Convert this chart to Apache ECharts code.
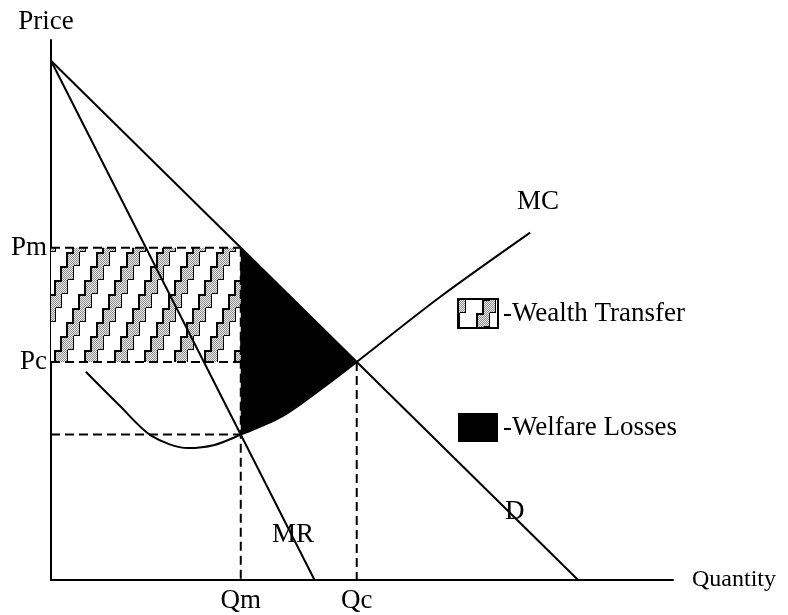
<!DOCTYPE html>
<html>
<head>
<meta charset="utf-8">
<script src="https://cdn.jsdelivr.net/npm/echarts@6/dist/echarts.min.js"></script>
<style>
  html, body { margin: 0; padding: 0; background: #fff; }
  #myChart { width: 788px; height: 615px; }
</style>
</head>
<body>
<div id="myChart"></div>
<script>
  // key quantities / prices
  const QM = 3.6, QC = 5.8;
  const PM = 6.4, PC = 4.2;
  const MR_AT_QM = 2.8;

  // curves
  const demand = [[0, 10], [10, 0]];
  const marginalRevenue = [[0, 10], [5, 0]];
  const marginalCost = [
    [0.66, 4.01], [1.3, 3.36], [1.9, 2.78], [2.6, 2.54], [3.1, 2.6],
    [3.6, 2.8], [4.4, 3.16], [5.35, 3.85], [5.8, 4.2], [7.38, 5.45], [9.09, 6.69]
  ];

  const curveLabels = [
    { name: 'MC', value: [9.24, 7.28] },
    { name: 'D', value: [8.8, 1.31] },
    { name: 'MR', value: [4.59, 0.87] }
  ];
  const xTicks = [QM, QC], xTickNames = ['Qm', 'Qc'];
  const yTicks = [PC, PM], yTickNames = ['Pc', 'Pm'];

  const FONT = 'Liberation Serif';

  // stair-step hatch for the wealth transfer box
  function makeHatch() {
    let w = 30, h = 70, stepH = 14, stepW = 6, band = 14;
    let c = document.createElement('canvas');
    c.width = w; c.height = h;
    let g = c.getContext('2d');
    g.fillStyle = '#fff';
    g.fillRect(0, 0, w, h);
    for (let k = 0; k < 5; k++) {
      let y0 = h - stepH * (k + 1);
      let x0 = stepW * k;
      for (let s of [-w, 0, w]) {
        // dithered grey
        for (let i = 0; i < band; i++) {
          for (let j = 0; j < stepH; j++) {
            g.fillStyle = (i + j) % 2 === 0 ? '#8c8c8c' : '#ececec';
            g.fillRect(x0 + s + i, y0 + j, 1, 1);
          }
        }
        g.fillStyle = '#000';
        g.fillRect(x0 + s, y0, 2, stepH);
        g.fillRect(x0 + s, y0, stepW + 2, 2);
        g.fillRect(x0 + s + band - 1, y0, 1, stepH);
        g.fillRect(x0 + s + band - stepW, y0 + stepH - 1, stepW, 1);
      }
    }
    return { image: c, repeat: 'repeat' };
  }
  const hatch = makeHatch();

  // polygon between D and MC from Qm to Qc
  let welfare = [[QM, PM], [QC, PC]];
  marginalCost.filter(p => p[0] > QM && p[0] < QC).reverse().forEach(p => welfare.push(p));
  welfare.push([QM, MR_AT_QM]);

  const dash = [9, 5];
  function dashed(points) {
    return {
      type: 'line', data: points, symbol: 'none', silent: true, z: 4,
      lineStyle: { color: '#000', width: 2, type: dash }
    };
  }

  let myChart = echarts.init(document.getElementById('myChart'));
  myChart.setOption({
    animation: false,
    backgroundColor: '#fff',
    textStyle: { fontFamily: FONT },
    grid: { left: 51, right: 115, top: 40, bottom: 35 },
    legend: {
      orient: 'vertical',
      left: 457,
      top: 298,
      padding: 0,
      itemWidth: 40,
      itemHeight: 29,
      itemGap: 84,
      selectedMode: false,
      formatter: n => '-' + n,
      textStyle: { fontFamily: FONT, fontSize: 27, color: '#000' },
      data: [
        { name: 'Wealth Transfer', icon: 'rect', itemStyle: { color: hatch, borderColor: '#000', borderWidth: 2 } },
        { name: 'Welfare Losses', icon: 'rect', itemStyle: { color: '#000' } }
      ]
    },
    xAxis: {
      type: 'value', min: 0, max: 11.8,
      name: 'Quantity', nameLocation: 'end', nameGap: 19,
      nameTextStyle: { fontFamily: FONT, fontSize: 24, color: '#000' },
      axisLine: { lineStyle: { color: '#000', width: 2 } },
      axisTick: { show: false },
      splitLine: { show: false },
      axisLabel: {
        customValues: xTicks, margin: 7,
        fontFamily: FONT, fontSize: 27, color: '#000',
        formatter: v => xTickNames[xTicks.indexOf(v)]
      }
    },
    yAxis: {
      type: 'value', min: 0, max: 10.4,
      name: 'Price', nameLocation: 'end', nameGap: 5,
      nameTextStyle: { fontFamily: FONT, fontSize: 27, color: '#000', align: 'center', padding: [0, 10, 0, 0] },
      axisLine: { show: true, lineStyle: { color: '#000', width: 2 } },
      axisTick: { show: false },
      splitLine: { show: false },
      axisLabel: {
        customValues: yTicks, margin: 4,
        fontFamily: FONT, fontSize: 27, color: '#000',
        formatter: v => yTickNames[yTicks.indexOf(v)]
      }
    },
    series: [
      {
        name: 'Wealth Transfer',
        type: 'custom',
        z: 1,
        itemStyle: { color: hatch },
        data: [[0, PC, QM, PM]],
        renderItem: function (params, api) {
          let a = api.coord([api.value(0), api.value(3)]);
          let b = api.coord([api.value(2), api.value(1)]);
          return { type: 'rect', shape: { x: a[0], y: a[1], width: b[0] - a[0], height: b[1] - a[1] }, style: { fill: hatch } };
        }
      },
      {
        name: 'Welfare Losses',
        type: 'custom',
        z: 2,
        itemStyle: { color: '#000' },
        data: [0],
        renderItem: function (params, api) {
          return { type: 'polygon', shape: { points: welfare.map(p => api.coord(p)) }, style: { fill: '#000' } };
        }
      },
      dashed([[0, PM], [QM, PM]]),
      dashed([[0, PC], [QM, PC]]),
      dashed([[0, MR_AT_QM], [QM, MR_AT_QM]]),
      dashed([[QM, PM], [QM, 0]]),
      dashed([[QC, PC], [QC, 0]]),
      {
        name: 'D', type: 'line', data: demand, symbol: 'none', z: 5,
        lineStyle: { color: '#000', width: 2 }
      },
      {
        name: 'MR', type: 'line', data: marginalRevenue, symbol: 'none', z: 5,
        lineStyle: { color: '#000', width: 2 }
      },
      {
        name: 'MC', type: 'line', data: marginalCost, symbol: 'none',
        smooth: 0.3, z: 5,
        lineStyle: { color: '#000', width: 2 }
      },
      {
        name: 'labels', type: 'scatter', symbolSize: 0, z: 6, data: curveLabels,
        itemStyle: { opacity: 1 },
        label: {
          show: true, position: 'inside', formatter: '{b}',
          fontFamily: FONT, fontSize: 27, color: '#000'
        }
      }
    ]
  });
</script>
</body>
</html>
